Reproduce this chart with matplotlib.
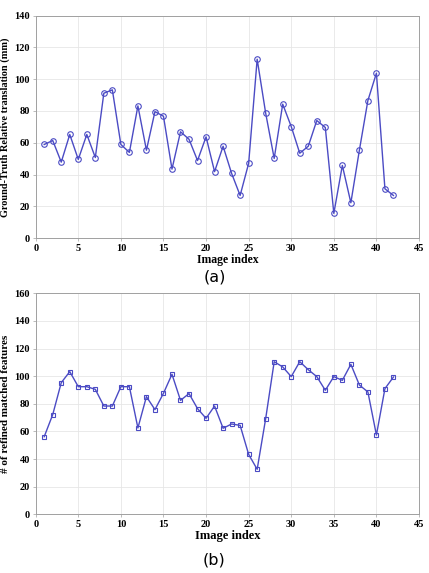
import matplotlib
matplotlib.use("Agg")
import matplotlib.pyplot as plt
import numpy as np

# image indices 1..42
image_index = list(range(1, 43))

translation_mm = [58.9, 61.4, 47.8, 65.2, 49.5, 65.2, 50.7, 91.2, 93.3, 58.9,
                  53.9, 83.2, 55.3, 79.6, 76.7, 43.4, 66.9, 62.2, 48.8, 63.7,
                  41.8, 57.8, 40.7, 26.8, 47.0, 112.6, 78.6, 50.1, 84.3, 70.2,
                  53.4, 57.8, 74.0, 69.6, 15.5, 45.7, 22.2, 55.3, 86.6, 103.8,
                  31.0, 26.8]

refined_features = [56.2, 72.2, 95.3, 103.3, 92.4, 92.4, 90.5, 78.4, 78.4, 92.4,
                    92.4, 62.5, 85.2, 75.8, 87.6, 101.4, 82.5, 87.4, 76.5, 69.5,
                    78.4, 62.3, 65.4, 64.4, 43.4, 32.6, 69.3, 110.5, 106.7, 99.7,
                    110.5, 104.7, 99.7, 89.8, 99.7, 97.0, 108.6, 93.6, 88.6, 57.4,
                    91.0, 99.4]

LINE = "#4b4bc4"
tick_font = {"family": "Liberation Serif", "weight": "bold", "size": 7.5}


def style_axes(ax, ymax, ystep, ylabel, xsize, ysize):
    ax.set_xlim(0, 45)
    ax.set_ylim(0, ymax)
    ax.set_xticks(np.arange(0, 46, 5))
    ax.set_yticks(np.arange(0, ymax + 1, ystep))
    ax.grid(True, color="#e6e6e6", linewidth=0.6)
    ax.set_axisbelow(True)
    for s in ax.spines.values():
        s.set_color("#a0a0a0")
        s.set_linewidth(0.7)
    ax.tick_params(length=2, width=0.5, color="#a0a0a0", pad=2)
    for lab in ax.get_xticklabels() + ax.get_yticklabels():
        lab.set_fontproperties(tick_font)
    ax.set_xlabel("Image index", family="Liberation Serif", weight="bold",
                  size=xsize, labelpad=1)
    ax.set_ylabel(ylabel, family="Liberation Serif", weight="bold",
                  size=ysize, labelpad=3)


fig = plt.figure(figsize=(4.29, 5.73), dpi=100)
ax1 = fig.add_axes([0.0832, 0.5846, 0.8935, 0.388])
ax2 = fig.add_axes([0.0832, 0.1024, 0.8935, 0.3857])

ax1.plot(image_index, translation_mm, color=LINE, linewidth=1.0,
         marker="o", markersize=4, markerfacecolor="none",
         markeredgecolor=LINE, markeredgewidth=0.8)
style_axes(ax1, 140, 20, "Ground-Truth Relative translation (mm)", 8.5, 7.4)

ax2.plot(image_index, refined_features, color=LINE, linewidth=1.0,
         marker="s", markersize=3.5, markerfacecolor="none",
         markeredgecolor=LINE, markeredgewidth=0.8)
style_axes(ax2, 160, 20, "# of refined matched features", 9, 8)

fig.text(0.5, 1 - 277 / 573, "(a)", ha="center", va="center",
         fontsize=11.5, family="DejaVu Sans")
fig.text(0.5, 1 - 560 / 573, "(b)", ha="center", va="center",
         fontsize=11.5, family="DejaVu Sans")

fig.savefig("out.png", dpi=100)
plt.close(fig)
